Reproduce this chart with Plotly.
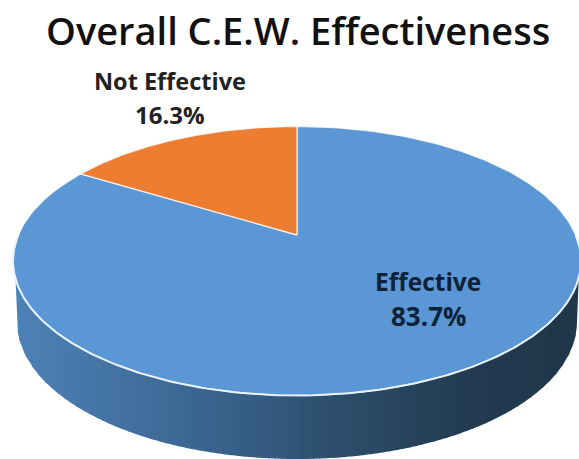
import numpy as np
import plotly.graph_objects as go

TITLE = "Overall C.E.W. Effectiveness"
categories = ["Effective", "Not Effective"]
values = [83.7, 16.3]
slice_colors = ["#5b96d5", "#ed7d31"]

W, H = 579, 459
CX, CY, RX, RY = 297, 261, 284, 134.5   # rim ellipse of the top face
T = (261 - 235) / 134.5                 # perspective shift of the pie centre
BCY, BRX, BRY = 322, 280, 137           # lower rim of the side wall
SIDE_STOPS = [(0.0, (78, 131, 183)), (0.35, (58, 100, 142)), (0.55, (46, 80, 110)),
              (0.8, (35, 60, 82)), (1.0, (32, 54, 74))]


def rim(theta):
    """Clockwise angle from the top on the pie -> picture position on the rim."""
    a, b = np.sin(theta), np.cos(theta)
    w = 1 + T * b
    return CX + RX * a * np.sqrt(1 - T ** 2) / w, CY - RY * (b + T) / w


def mix(f):
    xs = [s[0] for s in SIDE_STOPS]
    return "rgb(%d,%d,%d)" % tuple(np.interp(f, xs, [s[1][i] for s in SIDE_STOPS]) for i in range(3))


fig = go.Figure()

# side wall, as narrow vertical strips carrying the shading
edges = np.linspace(CX - RX, CX + RX, 90)
for i in range(len(edges) - 1):
    x0, x1 = edges[i], min(edges[i + 1] + 1.0, CX + RX)
    xs = np.linspace(x0, x1, 4)
    top = CY + RY * np.sqrt(np.clip(1 - ((xs - CX) / RX) ** 2, 0, 1)) - 2
    bot = BCY + BRY * np.sqrt(np.clip(1 - ((xs - CX) / BRX) ** 2, 0, 1))
    bot = np.where(np.abs(xs - CX) > BRX, top, bot)
    fig.add_trace(go.Scatter(
        x=np.r_[xs, xs[::-1]], y=np.r_[top, bot[::-1]], mode="lines", fill="toself",
        fillcolor=mix(i / (len(edges) - 2)), line=dict(width=0), hoverinfo="skip", showlegend=False))

# top-face slices, clockwise from 12 o'clock: Not Effective ends at the top
total = sum(values)
start = 0.0
for name, val, col in zip(categories, values, slice_colors):
    th = np.linspace(start, start + 2 * np.pi * val / total, 240)
    rx_, ry_ = rim(th)
    apex_x, apex_y = rim(np.array([0.0]))[0][0], CY - RY * T
    fig.add_trace(go.Scatter(
        x=np.r_[apex_x, rx_, apex_x], y=np.r_[apex_y, ry_, apex_y], mode="lines", fill="toself",
        fillcolor=col, line=dict(color="rgba(255,255,255,0.75)", width=1.3),
        name=name, hoverinfo="skip", showlegend=False))
    start += 2 * np.pi * val / total

# white highlight along the front of the rim
th = np.linspace(np.pi * 0.5, np.pi * 1.5, 240)
fx, fy = rim(th)
fig.add_trace(go.Scatter(x=fx, y=fy, mode="lines", line=dict(color="rgba(235,243,250,0.95)", width=2),
                         hoverinfo="skip", showlegend=False))

annotations = [
    dict(x=297.5, y=30, text=TITLE, font=dict(size=38, color="#111111", family="Open Sans", weight=600)),
    dict(x=170, y=81, text=categories[1], font=dict(size=23.5, color="#222222", family="Open Sans", weight=700)),
    dict(x=170, y=114, text="%.1f%%" % values[1], font=dict(size=24, color="#222222", family="Open Sans", weight=700)),
    dict(x=428, y=281, text=categories[0], font=dict(size=24.5, color="#0e2238", family="Open Sans", weight=700)),
    dict(x=428, y=316, text="%.1f%%" % values[0], font=dict(size=26, color="#0e2238", family="Open Sans", weight=700)),
]
for a in annotations:
    fig.add_annotation(xref="x", yref="y", showarrow=False, xanchor="center", yanchor="middle", **a)

fig.update_layout(
    width=W, height=H, margin=dict(l=0, r=0, t=0, b=0),
    paper_bgcolor="white", plot_bgcolor="white", showlegend=False,
    xaxis=dict(range=[0, W], visible=False, fixedrange=True),
    yaxis=dict(range=[H, 0], visible=False, fixedrange=True),
)
fig.write_html("out.html", config={"displayModeBar": False},
               post_script="document.body.style.margin='0';document.body.style.overflow='hidden';")
